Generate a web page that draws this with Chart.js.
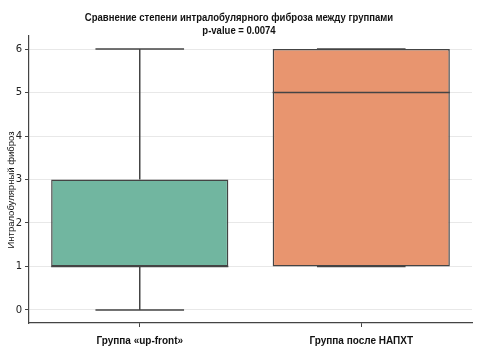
<!DOCTYPE html>
<html><head><meta charset="utf-8">
<script src="https://cdn.jsdelivr.net/npm/chart.js@4"></script>
<style>html,body{margin:0;padding:0;background:#fff}#w{width:478px;height:357px}</style>
</head><body><div id="w"><canvas id="c" width="478" height="357"></canvas></div>
<script>
const categories = ['Группа «up-front»', 'Группа после НАПХТ'];
const whiskerMin = [0, 1];
const q1 = [1, 1];
const median = [1, 5];
const q3 = [3, 6];
const whiskerMax = [6, 6];
const yTicks = [0, 1, 2, 3, 4, 5, 6];
const boxColors = ['#71b6a0', '#e8956f'];
const titleLines = ['Сравнение степени интралобулярного фиброза между группами', 'p-value = 0.0074'];
const yTitle = 'Интралобулярный фиброз';

const edge = '#444444';
const boxPlugin = {
  id: 'boxParts',
  afterDatasetsDraw(chart) {
    const ctx = chart.ctx, x = chart.scales.x, y = chart.scales.y;
    const meta = chart.getDatasetMeta(0);
    ctx.save();
    ctx.strokeStyle = edge; ctx.lineWidth = 1.5; ctx.lineCap = 'butt';
    meta.data.forEach((bar, i) => {
      const cx = x.getPixelForValue(i);
      const w = bar.width;
      const line = (x1, y1, x2, y2) => { ctx.beginPath(); ctx.moveTo(x1, y1); ctx.lineTo(x2, y2); ctx.stroke(); };
      line(cx, y.getPixelForValue(q3[i]), cx, y.getPixelForValue(whiskerMax[i]));
      line(cx, y.getPixelForValue(q1[i]), cx, y.getPixelForValue(whiskerMin[i]));
      line(cx - w / 4, y.getPixelForValue(whiskerMax[i]), cx + w / 4, y.getPixelForValue(whiskerMax[i]));
      line(cx - w / 4, y.getPixelForValue(whiskerMin[i]), cx + w / 4, y.getPixelForValue(whiskerMin[i]));
      line(cx - w / 2, y.getPixelForValue(median[i]), cx + w / 2, y.getPixelForValue(median[i]));
    });
    ctx.restore();

    // y axis title
    ctx.save();
    ctx.fillStyle = '#111';
    ctx.font = "9.5px 'Liberation Sans', Arial";
    ctx.textAlign = 'center'; ctx.textBaseline = 'middle';
    ctx.translate(11, 190);
    ctx.rotate(-Math.PI / 2);
    ctx.fillText(yTitle, 0, 0);
    ctx.restore();

    // chart title (condensed)
    ctx.save();
    ctx.fillStyle = '#111';
    ctx.font = "bold 11px 'Liberation Sans', Arial";
    ctx.textAlign = 'center'; ctx.textBaseline = 'alphabetic';
    const cxT = chart.width / 2;
    [21, 33.5].forEach((by, k) => {
      ctx.save();
      ctx.translate(cxT, by);
      ctx.scale(0.866, 1);
      ctx.fillText(titleLines[k], 0, 0);
      ctx.restore();
    });
    ctx.restore();
  }
};

new Chart(document.getElementById('c'), {
  type: 'bar',
  data: {
    labels: categories,
    datasets: [{
      data: categories.map((c, i) => [q1[i], q3[i]]),
      backgroundColor: boxColors,
      borderColor: edge,
      borderWidth: 1.5,
      borderSkipped: false,
      categoryPercentage: 1,
      barPercentage: 0.8
    }]
  },
  options: {
    responsive: false,
    animation: false,
    layout: { padding: { left: 0, right: 6, top: 36, bottom: 0 } },
    plugins: {
      legend: { display: false },
      tooltip: { enabled: false },
      title: { display: false }
    },
    scales: {
      x: {
        offset: true,
        grid: { display: true, drawOnChartArea: false, drawTicks: true, tickLength: 4, tickColor: edge, offset: false },
        border: { display: true, color: edge, width: 1.2 },
        ticks: { color: '#111', padding: 8, font: { family: "'Liberation Sans', Arial", size: 10, weight: 'bold' } },
        afterFit(s) { s.height = 34; }
      },
      y: {
        min: -0.3, max: 6.3,
        afterBuildTicks(s) { s.ticks = yTicks.map(v => ({ value: v })); },
        grid: { color: '#e8e8e8', lineWidth: 1, drawTicks: true, tickLength: 4, tickColor: edge },
        border: { display: true, color: edge, width: 1.2 },
        ticks: { color: '#222', padding: 3, font: { family: "'DejaVu Sans'", size: 10 } },
        afterFit(s) { s.width = 29; }
      }
    }
  },
  plugins: [boxPlugin]
});
</script>
</body></html>
